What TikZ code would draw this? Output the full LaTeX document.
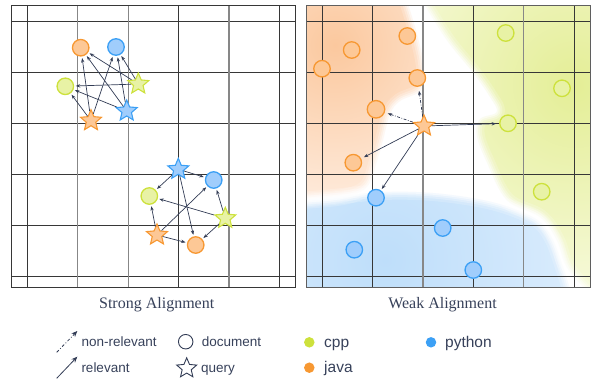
\documentclass[tikz,border=0pt]{standalone}
\usepackage{fontspec}
\setmainfont{Liberation Serif}
\setsansfont{Liberation Sans}
\usetikzlibrary{shapes.geometric,arrows.meta}
\definecolor{javaB}{RGB}{247,152,50}
\definecolor{javaF}{RGB}{253,200,150}
\definecolor{pyB}{RGB}{60,160,245}
\definecolor{pyF}{RGB}{160,205,252}
\definecolor{cppB}{RGB}{205,225,60}
\definecolor{cppF}{RGB}{232,242,165}
\definecolor{arrowc}{RGB}{50,60,85}
\definecolor{txtc}{RGB}{55,65,90}
\definecolor{gridD}{RGB}{55,55,55}
\definecolor{gridL}{RGB}{135,135,135}
\definecolor{orgD}{RGB}{251,200,158}
\definecolor{orgL}{RGB}{255,244,236}
\definecolor{grnD}{RGB}{228,238,150}
\definecolor{grnL}{RGB}{250,252,232}
\definecolor{bluD}{RGB}{190,222,250}
\definecolor{bluL}{RGB}{242,248,255}
\tikzset{
  doc/.style={circle, minimum size=16.5pt, inner sep=0pt, line width=1.3pt},
  qry/.style={star, star points=5, star point ratio=2.2, minimum size=22pt, inner sep=0pt, line width=1.1pt},
  jdoc/.style={doc, draw=javaB, fill=javaF},
  pdoc/.style={doc, draw=pyB, fill=pyF},
  cdoc/.style={doc, draw=cppB, fill=cppF},
  jq/.style={qry, draw=javaB, fill=javaF},
  pq/.style={qry, draw=pyB, fill=pyF},
  cq/.style={qry, draw=cppB, fill=cppF},
  rel/.style={-{Stealth[length=4.5pt,width=3.3pt]}, draw=arrowc, line width=0.7pt, shorten >=1.5pt},
  nonrel/.style={rel, dash pattern=on 3pt off 1.5pt on 0.8pt off 1.5pt},
  gridd/.style={draw=gridD, line width=0.8pt},
  gridl/.style={draw=gridL, line width=1.2pt},
  lbl/.style={font=\fontsize{16}{18}\selectfont, text=txtc},
  legtxt/.style={font=\sffamily\fontsize{13.5}{15}\selectfont, text=txtc, anchor=base west, inner sep=0pt},
  legbig/.style={font=\sffamily\fontsize{15.5}{17}\selectfont, text=txtc, anchor=base west, inner sep=0pt},
  legarrow/.style={-{Stealth[length=6pt,width=5pt]}, draw=arrowc, line width=0.8pt},
  soft/.style={draw=white, line cap=round, line join=round},
}
\def\orgcurve{plot[smooth, tension=0.6] coordinates {(406.7,0) (416.7,33) (424,67) (421,90) (400,101) (390,114) (383,140) (376.7,162) (366.7,187) (343,197) (300,201)}}
\def\grncurve{plot[smooth, tension=0.6] coordinates {(421.7,0) (446.7,40) (473.3,73) (490,97) (496.7,112) (480,119) (476.7,135) (486.7,162) (506.7,200) (540,217) (556.7,240) (566.7,267) (588,292)}}
\def\blucurve{plot[smooth, tension=0.6] coordinates {(300,200) (333,197) (383,192) (433,193) (483,200) (517,210) (540,222) (553,240) (563,267) (572,295)}}
\newcommand{\softedge}[1]{%
  \draw[soft, line width=16pt, opacity=0.18] #1;
  \draw[soft, line width=11pt, opacity=0.25] #1;
  \draw[soft, line width=7pt, opacity=0.35] #1;
  \draw[soft, line width=3.5pt, opacity=0.5] #1;
}
\begin{document}
\begin{tikzpicture}[x=1pt,y=-1pt]
\useasboundingbox (0,0) rectangle (592,381);
% ---------- right panel background regions ----------
\begin{scope}
  \clip (306,5.3) rectangle (590,287.3);
  \begin{scope}
    \clip \orgcurve -- (290,201) -- (290,-10) -- (406.7,-10) -- cycle;
    \shade[inner color=orgD, outer color=orgL] (335,45) circle (200);
  \end{scope}
  \begin{scope}
    \clip \grncurve -- (600,292) -- (600,-10) -- (421.7,-10) -- cycle;
    \shade[inner color=grnD, outer color=grnL] (575,85) circle (250);
  \end{scope}
  \begin{scope}
    \clip \blucurve -- (300,295) -- cycle;
    \shade[inner color=bluD, outer color=bluL] (385,260) circle (360);
  \end{scope}
  \softedge{\orgcurve}
  \softedge{\grncurve}
  \softedge{\blucurve}
\end{scope}
% ---------- grids ----------
\foreach \y in {21.3,72.3,123.3,174,225.3,276.3} {
  \draw[gridd] (11,\y) -- (295.3,\y);
  \draw[gridd] (306,\y) -- (590,\y);
}
\foreach \x in {27.3,178.7,279.3} \draw[gridd] (\x,5.3) -- (\x,287.3);
\foreach \x in {77.7,128.3,229} \draw[gridl] (\x,5.3) -- (\x,287.3);
\foreach \x in {322.3,372.7,473.3,574} \draw[gridd] (\x,5.3) -- (\x,287.3);
\foreach \x in {423,523.7} \draw[gridl] (\x,5.3) -- (\x,287.3);
\draw[gridd] (11,5.3) rectangle (295.3,287.3);
\draw[draw=gridD!80, line width=1pt] (306,5.3) rectangle (590,287.3);
% ---------- left panel, upper cluster ----------
\node[jdoc] (o1) at (80.7,47.7) {};
\node[pdoc] (b1) at (116,47) {};
\node[cdoc] (g1) at (65.3,86.3) {};
\node[cq] (gs1) at (138.3,84) {};
\node[pq] (bs1) at (126.7,111) {};
\node[jq] (os1) at (91,120.7) {};
\foreach \s in {gs1,bs1,os1} \foreach \d in {o1,b1,g1} \draw[rel] (\s) -- (\d);
% ---------- left panel, lower cluster ----------
\node[pq] (bs2) at (178.3,169.3) {};
\node[pdoc] (b2) at (213.7,180) {};
\node[cdoc] (g2) at (149.3,196) {};
\node[cq] (gs2) at (225.3,218.3) {};
\node[jq] (os2) at (157,235) {};
\node[jdoc] (o2) at (195.7,245) {};
\foreach \s in {gs2,bs2,os2} \foreach \d in {o2,b2,g2} \draw[rel] (\s) -- (\d);
% ---------- right panel ----------
\node[jdoc] (or1) at (351.7,50) {};
\node[jdoc] (or2) at (407.3,36) {};
\node[jdoc] (or3) at (322,68.7) {};
\node[jdoc] (or4) at (417.3,78) {};
\node[jdoc, minimum size=17.5pt] (or5) at (376,109.3) {};
\node[jdoc] (or6) at (353.3,162.7) {};
\node[cdoc] (gr1) at (505.7,33) {};
\node[cdoc] (gr2) at (562,88.3) {};
\node[cdoc] (gr3) at (508,123.3) {};
\node[cdoc] (gr4) at (541.7,191.7) {};
\node[pdoc] (br1) at (376,197.7) {};
\node[pdoc] (br2) at (442.7,228) {};
\node[pdoc] (br3) at (354.3,249.7) {};
\node[pdoc] (br4) at (473.3,270) {};
\node[jq] (q) at (424,126) {};
\draw[nonrel, shorten >=4pt] (q) -- (or4);
\draw[nonrel, shorten >=3pt] (q) -- (or5);
\draw[rel, shorten >=3pt] (q) -- (gr3);
\draw[rel, shorten >=3pt] (q) -- (or6);
\draw[rel, shorten >=1.5pt] (q) -- (br1);
% ---------- captions ----------
\node[lbl] (cap1) at (156.7,305) {Strong Alignment};
\node[lbl] (cap2) at (442.5,305) {Weak Alignment};
% ---------- legend ----------
\coordinate (nr0) at (56.7,352.3);
\coordinate (nr1) at (77.3,331);
\coordinate (r0) at (56.7,378.3);
\coordinate (r1) at (77.3,356.7);
\draw[legarrow, dash pattern=on 3pt off 2pt on 0.8pt off 2pt] (nr0) -- (nr1);
\draw[legarrow] (r0) -- (r1);
\node[legtxt] (tnr) at (81.3,346.7) {non-relevant};
\node[legtxt] (tr) at (81.3,372.3) {relevant};
\node[circle, draw=arrowc, line width=0.9pt, minimum size=14.5pt, inner sep=0pt] (ldoc) at (185.7,341.7) {};
\node[legtxt] (tdoc) at (201.7,346.7) {document};
\node[qry, draw=arrowc, fill=white, line width=0.9pt, minimum size=21pt] (lq) at (186.7,368.3) {};
\node[legtxt] (tq) at (201,372.3) {query};
\node[circle, fill=cppB, minimum size=10.5pt, inner sep=0pt] (lc) at (309.3,342.3) {};
\node[legbig] (tc) at (324,347.3) {cpp};
\node[circle, fill=javaB, minimum size=10.5pt, inner sep=0pt] (lj) at (309.3,367.7) {};
\node[legbig] (tj) at (324,372.7) {java};
\node[circle, fill=pyB, minimum size=10.5pt, inner sep=0pt] (lp) at (431,342.3) {};
\node[legbig] (tp) at (445,347.3) {python};
\end{tikzpicture}
\end{document}
